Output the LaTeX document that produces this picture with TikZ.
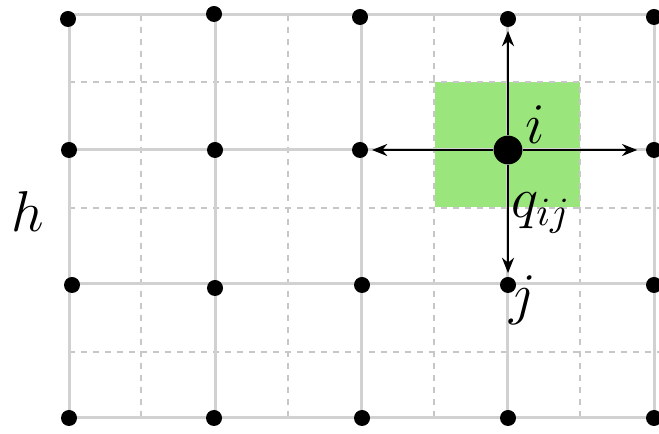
\documentclass[tikz,border=0pt]{standalone}
\usetikzlibrary{arrows.meta}
\begin{document}
\begin{tikzpicture}[x=0.25pt,y=-0.25pt,
  solidgrid/.style={draw=black!18,line width=0.75pt},
  dashgrid/.style={draw=black!22,line width=0.45pt,dash pattern=on 1.5pt off 1.5pt},
  dot/.style={circle,fill=black,inner sep=0pt,minimum size=4pt},
  bigdot/.style={circle,fill=black,inner sep=0pt,minimum size=7.2pt},
  arr/.style={-{Stealth[length=3.8pt,width=3pt]},line width=0.7pt,shorten >=0.8pt},
  lbl/.style={font=\fontsize{14}{16}\selectfont,inner sep=0pt}]
\useasboundingbox (0,0) rectangle (659,434);
\definecolor{cellgreen}{RGB}{155,229,125}
\fill[cellgreen] (435,82) rectangle (580,207);
% dashed grid
\foreach \x in {141,288,434,580} \draw[dashgrid] (\x,15) -- (\x,418);
\foreach \y in {82,208,352} \draw[dashgrid] (69,\y) -- (659,\y);
% solid grid
\foreach \x in {69,215,361,507,654} \draw[solidgrid] (\x,15) -- (\x,418);
\foreach \y in {15,150,284,418} \draw[solidgrid] (69,\y) -- (659,\y);
% dots
\node[dot] (a1) at (68,19) {};
\node[dot] (a2) at (214,14) {};
\node[dot] (a3) at (360,17) {};
\node[dot] (a4) at (508,19) {};
\node[dot] (a5) at (654,17) {};
\node[dot] (b1) at (69,150) {};
\node[dot] (b2) at (215,150) {};
\node[dot] (b3) at (360,150) {};
\node[bigdot] (c) at (508,150) {};
\node[dot] (b5) at (654,150) {};
\node[dot] (d1) at (72,285) {};
\node[dot] (d2) at (215,288) {};
\node[dot] (d3) at (362,285) {};
\node[dot] (d4) at (508,285) {};
\node[dot] (d5) at (654,285) {};
\node[dot] (e1) at (69,418) {};
\node[dot] (e2) at (214,418) {};
\node[dot] (e3) at (362,418) {};
\node[dot] (e4) at (508,418) {};
\node[dot] (e5) at (654,418) {};
% arrows
\draw[arr] (c) -- (a4);
\draw[arr] (c) -- (b3);
\draw[arr,shorten >=2pt] (c) -- (b5);
\draw[arr] (c) -- (d4);
% labels
\node[lbl] (li) at (535,125) {$i$};
\node[lbl] (lq) at (541,213) {$q_{ij}$};
\node[lbl] (lj) at (523,300) {$j$};
\node[lbl] (lh) at (28,212) {$h$};
\end{tikzpicture}
\end{document}
